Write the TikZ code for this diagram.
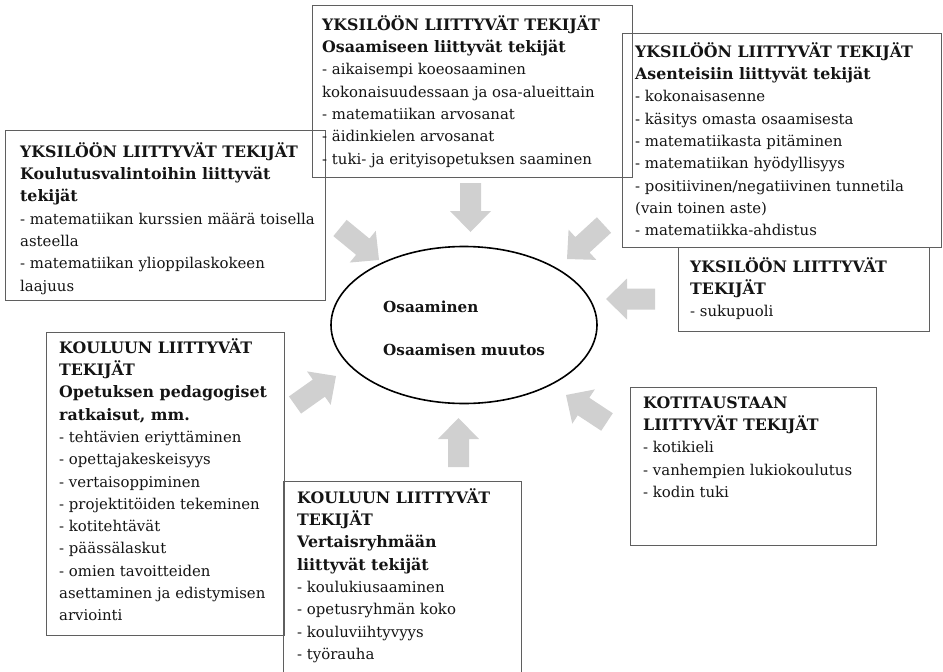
\documentclass[tikz,border=0pt]{standalone}
\usepackage{fontspec}
\setmainfont{DejaVu Serif}
\usetikzlibrary{shapes.geometric,calc}
\definecolor{arrowgray}{RGB}{208,208,208}
\definecolor{boxline}{RGB}{95,95,95}
\definecolor{txtcol}{RGB}{20,20,20}
\newcommand{\hd}[1]{{\fontsize{15.8pt}{22.3pt}\selectfont\bfseries #1}}
\newcommand{\blockarr}[2]{%
  \coordinate (#1h) at ($(#2)!21pt!(#1)$);
  \fill[arrowgray] ($(#1)!10.5pt!90:(#2)$) -- ($(#1)!10.5pt!-90:(#2)$)
    -- ($(#1h)!10.5pt!-90:(#2)$) -- ($(#1h)!20.5pt!-90:(#2)$) -- (#2)
    -- ($(#1h)!20.5pt!90:(#2)$) -- ($(#1h)!10.5pt!90:(#2)$) -- cycle;
}
\begin{document}
\begin{tikzpicture}[x=1pt,y=-1pt,
  factorbox/.style={draw=boxline, line width=1pt, inner sep=0pt, anchor=north west},
  ftext/.style={anchor=north west, align=left, inner sep=0pt, text=txtcol,
    font=\fontsize{14.9pt}{22.3pt}\selectfont},
  coretext/.style={anchor=base west, inner sep=0pt, text=txtcol,
    font=\bfseries\fontsize{15.2pt}{17pt}\selectfont}]
\useasboundingbox (0,0) rectangle (943,672);

% boxes
\node[factorbox, minimum width=320pt, minimum height=172pt] (b1) at (312,5) {};
\node[factorbox, minimum width=319pt, minimum height=214pt] (b2) at (622,33) {};
\node[factorbox, minimum width=320pt, minimum height=170pt] (b3) at (5,130) {};
\node[factorbox, minimum width=251pt, minimum height=84pt] (b4) at (678,247) {};
\node[factorbox, minimum width=246pt, minimum height=158pt] (b5) at (630,387) {};
\node[factorbox, minimum width=238pt, minimum height=303pt] (b6) at (46,332) {};
\node[factorbox, minimum width=238pt, minimum height=230pt] (b7) at (283,481) {};

% texts
\node[ftext] (t1) at (322,14.4) {\strut\hd{YKSILÖÖN LIITTYVÄT TEKIJÄT}\\\hd{Osaamiseen liittyvät tekijät}\\- aikaisempi koeosaaminen\\kokonaisuudessaan ja osa-alueittain\\- matematiikan arvosanat\\- äidinkielen arvosanat\\- tuki- ja erityisopetuksen saaminen};
\node[ftext] (t2) at (635,41.4) {\strut\hd{YKSILÖÖN LIITTYVÄT TEKIJÄT}\\\hd{Asenteisiin liittyvät tekijät}\\- kokonaisasenne\\- käsitys omasta osaamisesta\\- matematiikasta pitäminen\\- matematiikan hyödyllisyys\\- positiivinen/negatiivinen tunnetila\\(vain toinen aste)\\- matematiikka-ahdistus};
\node[ftext] (t3) at (20,141.4) {\strut\hd{YKSILÖÖN LIITTYVÄT TEKIJÄT}\\\hd{Koulutusvalintoihin liittyvät}\\\hd{tekijät}\\- matematiikan kurssien määrä toisella\\asteella\\- matematiikan ylioppilaskokeen\\laajuus};
\node[ftext] (t4) at (690,256.4) {\strut\hd{YKSILÖÖN LIITTYVÄT}\\\hd{TEKIJÄT}\\- sukupuoli};
\node[ftext] (t5) at (643,392.4) {\strut\hd{KOTITAUSTAAN}\\\hd{LIITTYVÄT TEKIJÄT}\\- kotikieli\\- vanhempien lukiokoulutus\\- kodin tuki};
\node[ftext] (t6) at (59,337.4) {\strut\hd{KOULUUN LIITTYVÄT}\\\hd{TEKIJÄT}\\\hd{Opetuksen pedagogiset}\\\hd{ratkaisut, mm.}\\- tehtävien eriyttäminen\\- opettajakeskeisyys\\- vertaisoppiminen\\- projektitöiden tekeminen\\- kotitehtävät\\- päässälaskut\\- omien tavoitteiden\\asettaminen ja edistymisen\\arviointi};
\node[ftext] (t7) at (297,487.4) {\strut\hd{KOULUUN LIITTYVÄT}\\\hd{TEKIJÄT}\\\hd{Vertaisryhmään}\\\hd{liittyvät tekijät}\\- koulukiusaaminen\\- opetusryhmän koko\\- kouluviihtyvyys\\- työrauha};

% core ellipse
\node[ellipse, draw=black, line width=1.6pt, minimum width=266pt, minimum height=157pt, inner sep=0pt] (core) at (464,325) {};
\node[coretext] (c1) at (383,312) {Osaaminen};
\node[coretext] (c2) at (383,355) {Osaamisen muutos};

% block arrows
\coordinate (a1) at (470.5,183); \coordinate (a1e) at (470.5,232);
\coordinate (a2) at (340,228);   \coordinate (a2e) at (379,260);
\coordinate (a3) at (604,225);   \coordinate (a3e) at (567,259);
\coordinate (a4) at (655,299);   \coordinate (a4e) at (606,299);
\coordinate (a5) at (607,422);   \coordinate (a5e) at (566,395);
\coordinate (a6) at (458.5,467); \coordinate (a6e) at (458.5,418);
\coordinate (a7) at (295,405);   \coordinate (a7e) at (336,376);
\blockarr{a1}{a1e}
\blockarr{a2}{a2e}
\blockarr{a3}{a3e}
\blockarr{a4}{a4e}
\blockarr{a5}{a5e}
\blockarr{a6}{a6e}
\blockarr{a7}{a7e}
\end{tikzpicture}
\end{document}
